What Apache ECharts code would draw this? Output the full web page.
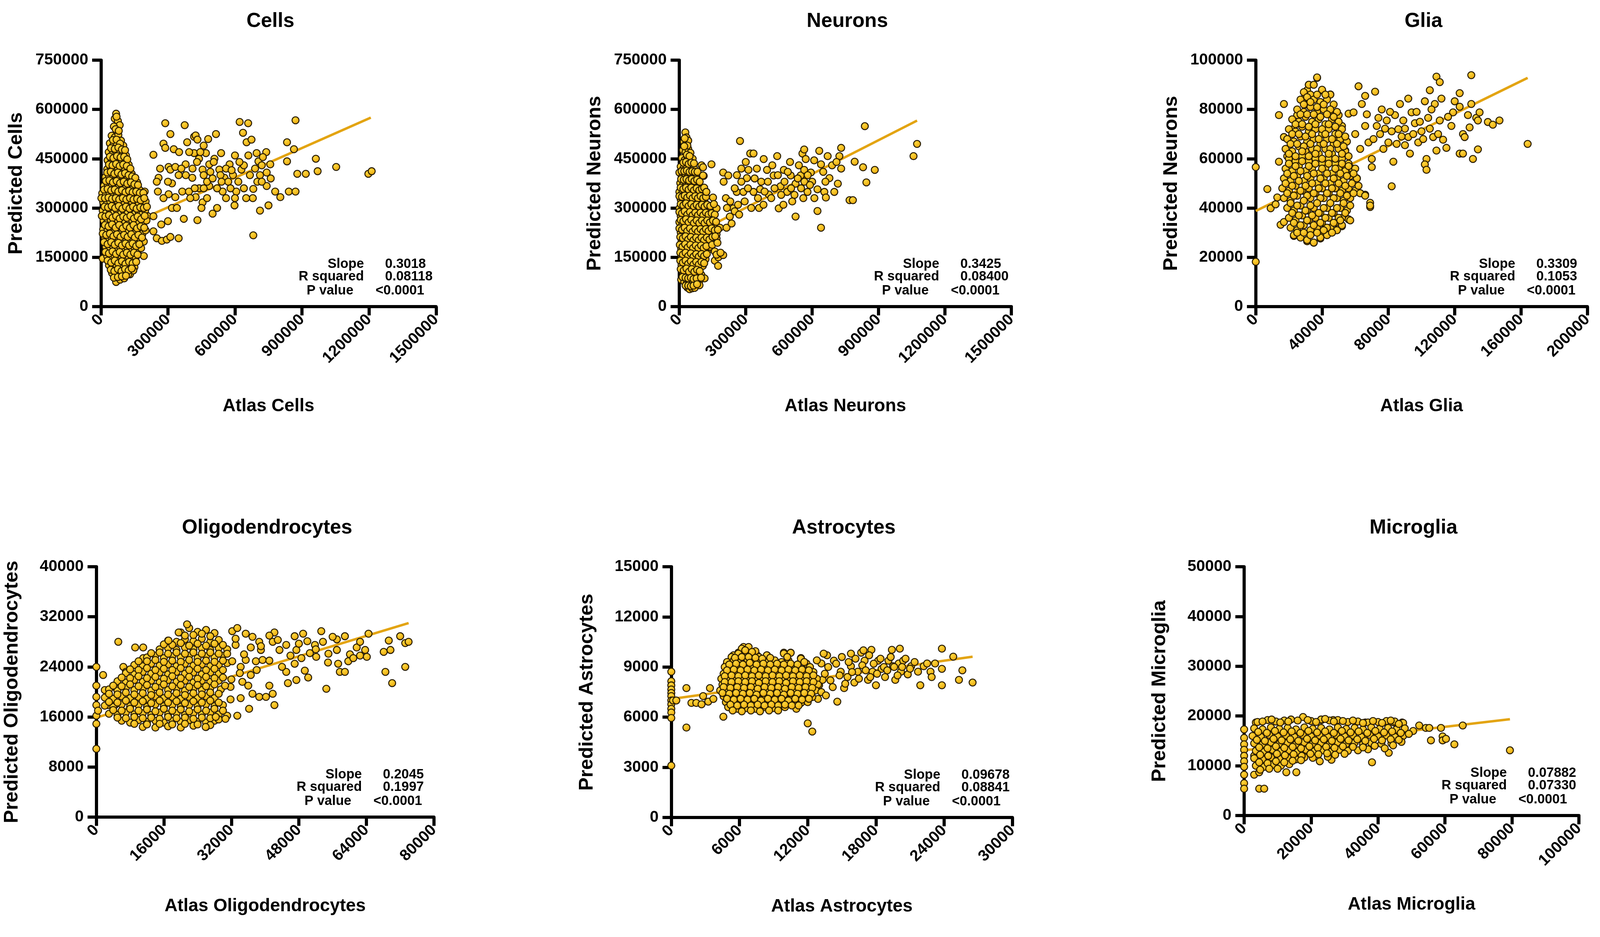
<!DOCTYPE html>
<html>
<head>
<meta charset="utf-8">
<script src="https://cdn.jsdelivr.net/npm/echarts@6/dist/echarts.min.js"></script>
<style>
  html, body { margin: 0; padding: 0; background: #fff; overflow: hidden; }
  #chart { width: 100vw; height: 100vh; }
</style>
</head>
<body>
<div id="chart"></div>
<script>
// all point values, in thousands
const titles = ['Cells', 'Neurons', 'Glia', 'Oligodendrocytes', 'Astrocytes', 'Microglia'];
const xNames = ['Atlas Cells', 'Atlas Neurons', 'Atlas Glia', 'Atlas Oligodendrocytes', 'Atlas Astrocytes', 'Atlas Microglia'];
const yNames = ['Predicted Cells', 'Predicted Neurons', 'Predicted Neurons', 'Predicted Oligodendrocytes', 'Predicted Astrocytes', 'Predicted Microglia'];
const xMax = [1500000, 1500000, 200000, 80000, 30000, 100000];
const xStep = [300000, 300000, 40000, 16000, 6000, 20000];
const yMax = [750000, 750000, 100000, 40000, 15000, 50000];
const yStep = [150000, 150000, 20000, 8000, 3000, 10000];
const slopes = ['0.3018', '0.3425', '0.3309', '0.2045', '0.09678', '0.07882'];
const rSquared = ['0.08118', '0.08400', '0.1053', '0.1997', '0.08841', '0.07330'];
const pValues = ['<0.0001', '<0.0001', '<0.0001', '<0.0001', '<0.0001', '<0.0001'];

// regression lines, start and end
const cellsFit = [[0, 212], [1208, 575]];
const neuronsFit = [[0, 198], [1074, 566]];
const gliaFit = [[0, 38.8], [164, 92.8]];
const oligoFit = [[0, 15.9], [74, 31.0]];
const astroFit = [[0, 7.09], [26.5, 9.62]];
const microFit = [[0, 13.1], [79.4, 19.35]];

const cellsXY = [
  [68,587],[62,572],[76,565],[84,552],[58,548],
  [48,520],[62,515],[78,522],[90,505],
  [40,497],[55,490],[70,498],[85,485],[100,490],
  [35,470],[50,462],[66,474],[82,466],[98,470],[112,460],
  [30,445],[46,440],[62,448],[78,438],[94,446],[110,440],[124,432],
  [28,418],[44,424],[60,415],[76,422],[92,414],[108,420],[124,412],[138,404],
  [20,394],[36,398],[52,390],[68,396],[84,388],[100,394],[116,386],[132,392],[148,384],[162,378],
  [14,368],[30,372],[46,364],[62,370],[78,362],[94,368],[110,360],[126,366],[142,358],[158,364],[172,356],
  [6,345],[22,340],[38,348],[54,342],[70,336],[86,344],[102,338],[118,346],[134,336],[150,342],[166,334],[182,340],[196,350],
  [10,318],[26,312],[42,320],[58,314],[74,322],[90,310],[106,318],[122,312],[138,320],[154,310],[170,316],[186,308],[200,320],
  [8,292],[24,286],[40,294],[56,284],[72,292],[88,282],[104,290],[120,284],[136,292],[152,282],[168,290],[184,280],[198,292],[210,275],
  [12,262],[28,256],[44,264],[60,254],[76,262],[92,252],[108,260],[124,254],[140,262],[156,250],[172,258],[188,250],[204,262],
  [10,235],[26,228],[42,236],[58,226],[74,234],[90,224],[106,232],[122,226],[138,234],[154,224],[170,232],[186,222],[200,232],
  [16,212],[32,204],[48,210],[64,200],[80,208],[96,198],[112,206],[128,198],[144,206],[160,196],[176,204],[192,198],
  [22,182],[38,176],[54,184],[70,174],[86,182],[102,172],[118,180],[134,172],[150,180],[166,170],[180,178],
  [8,146],[28,154],[44,148],[60,156],[76,146],[92,154],[108,144],[124,152],[140,144],[156,150],[192,154],
  [36,126],[52,120],[68,128],[84,118],[100,126],[116,116],[132,124],[150,120],
  [50,102],[66,96],[82,104],[98,94],[114,102],[130,98],[145,110],
  [68,75],[86,82],[104,86],[122,98],
  [70,578],[66,540],[80,535],
  [54,507],[70,508],[86,496],[45,482],[62,480],[78,484],[94,478],[108,476],
  [40,456],[56,452],[72,458],[88,454],[104,456],[118,448],
  [36,432],[52,430],[68,434],[84,428],[100,432],[116,428],[132,420],
  [28,408],[44,410],[60,404],[76,408],[92,402],[108,406],[124,400],[140,396],[154,392],
  [22,382],[38,384],[54,378],[70,382],[86,376],[102,380],[118,374],[134,378],[150,372],[166,370],
  [14,356],[30,358],[46,354],[62,356],[78,350],[94,354],[110,348],[126,352],[142,348],[158,350],[174,346],[190,346],
  [2,330],[18,330],[34,332],[50,328],[66,330],[82,326],[98,330],[114,326],[130,330],[146,326],[162,328],[178,324],[194,330],
  [16,304],[32,302],[48,306],[64,300],[80,306],[96,298],[112,304],[128,298],[144,304],[160,298],[176,302],[192,300],[206,304],
  [4,276],[20,274],[36,278],[52,270],[68,276],[84,268],[100,274],[116,270],[132,276],[148,268],[164,274],[180,266],[196,276],
  [18,248],[34,244],[50,250],[66,240],[82,248],[98,238],[114,246],[130,240],[146,248],[162,238],[178,244],[194,240],
  [8,222],[24,218],[40,222],[56,214],[72,220],[88,212],[104,218],[120,212],[136,220],[152,210],[168,218],[184,210],
  [14,196],[30,190],[46,196],[62,188],[78,194],[94,186],[110,192],[126,186],[142,192],[158,184],[172,190],
  [20,166],[36,162],[52,168],[68,160],[84,166],[100,158],[116,164],[132,158],[148,164],[164,158],
  [30,140],[46,134],[62,140],[78,132],[94,138],[110,130],[126,136],[142,132],[158,136],
  [44,112],[60,108],[76,114],[92,108],[108,114],[124,110],[138,116],
  [58,88],[76,90],[94,92],[112,94],
  [235,462],[258,392],[255,350],[235,275],[235,229],[250,208],[273,200],[295,204],[311,212],
  [288,558],[280,496],[288,483],[303,425],[311,417],[318,375],[311,525],[326,479],[303,342],
  [318,300],[333,333],[348,208],[333,425],[348,400],[375,552],[371,267],[364,350],[379,433],[386,500],
  [417,517],[424,521],[432,508],[417,467],[439,450],[455,417],[470,467],[485,433],[409,392],[394,350],
  [424,333],[432,263],[455,317],[485,367],[500,283],[515,525],[508,450],[530,417],[538,467],[545,350],
  [553,392],[576,433],[591,400],[606,350],[598,308],[621,562],[659,558],[636,529],[652,500],[674,508],
  [629,417],[667,400],[682,358],[682,217],[697,467],[705,442],[712,400],[712,292],[742,408],[758,433],
  [750,308],[742,367],[803,333],[833,500],[833,442],[841,350],[871,567],[864,479],[871,350],[879,404],
  [917,404],[962,450],[970,412],[1053,425],[1197,404],[1212,412],
  [430,440],[445,470],[460,400],[475,380],[490,410],[505,440],[520,360],[535,400],[560,420],[570,380],
  [585,415],[600,460],[615,380],[640,430],[660,460],[690,420],[700,380],[720,430],[680,330],[475,330],
  [440,360],[410,420],[395,470],[380,400],[400,330],[450,300],[520,300],[560,330],[600,330],[640,360],
  [265,420],[250,380],[280,330],[300,380],[340,300],[360,420],[420,360],[460,360],[500,390],[540,380],
  [580,360],[620,440],[650,330],[720,380],[760,390],[780,350],[300,260],[270,250],[350,470],[460,490],
  [480,510],[740,470],[725,455]
];

const neuronsXY = [
  [27,530],[32,515],[20,502],[30,495],[40,505],
  [16,476],[28,470],[40,480],[50,468],
  [12,452],[24,446],[36,456],[48,444],[60,450],
  [6,426],[18,420],[30,430],[42,418],[54,428],[66,420],[100,430],
  [0,408],[14,398],[26,404],[38,394],[50,402],[62,392],[74,400],[110,398],
  [4,376],[16,370],[28,380],[40,368],[52,376],[64,366],[76,374],[88,366],
  [0,349],[12,344],[24,352],[36,342],[48,350],[60,340],[72,348],[84,340],[96,348],[122,349],
  [6,326],[18,320],[30,328],[42,318],[54,326],[66,316],[78,324],[90,316],[102,324],[114,318],[152,332],
  [0,299],[12,296],[24,302],[36,292],[48,300],[60,290],[72,298],[84,290],[96,298],[108,290],[120,298],[134,292],[168,299],
  [6,276],[18,270],[30,278],[42,268],[54,276],[66,266],[78,274],[90,266],[102,274],[114,266],[126,274],[140,268],[154,266],
  [0,257],[12,248],[24,254],[36,244],[48,252],[60,242],[72,250],[84,242],[96,250],[108,242],[120,250],[132,244],[146,252],[160,246],[183,240],
  [6,226],[18,220],[30,228],[42,218],[54,226],[66,216],[78,224],[90,216],[102,224],[114,216],[126,224],[140,218],[154,226],[168,220],
  [10,200],[22,194],[34,202],[46,192],[58,200],[70,190],[82,198],[94,190],[106,198],[118,190],[130,198],[142,192],[156,200],[168,207],
  [8,176],[20,170],[32,178],[44,168],[56,176],[68,166],[80,174],[92,166],[104,174],[116,166],[128,172],[137,182],[160,168],
  [8,157],[20,146],[32,152],[44,142],[56,150],[68,140],[80,148],[92,140],[104,148],[118,144],[160,140],[176,150],[198,157],
  [10,126],[22,120],[34,128],[46,118],[58,126],[70,116],[82,124],[94,118],[106,124],[175,124],
  [15,107],[26,98],[38,104],[50,94],[62,102],[74,94],[86,100],[100,96],
  [8,82],[22,76],[34,72],[46,78],[58,70],[72,74],[90,78],[114,86],
  [36,58],[46,53],[58,56],[69,57],[91,65],
  [24,512],[36,490],[22,488],[34,462],[46,458],[18,438],[30,440],[42,434],[54,438],[66,436],
  [10,412],[22,412],[34,414],[46,410],[58,412],[70,410],[82,410],
  [8,388],[20,386],[32,388],[44,384],[56,388],[68,382],[80,386],[92,380],
  [6,362],[18,358],[30,362],[42,356],[54,362],[66,354],[78,360],[90,354],[102,358],[112,362],
  [0,336],[12,334],[24,338],[36,332],[48,338],[60,330],[72,336],[84,330],[96,336],[108,330],[120,334],
  [6,312],[18,308],[30,314],[42,306],[54,312],[66,304],[78,310],[90,304],[102,310],[114,304],[126,310],[140,306],[156,312],
  [0,288],[12,284],[24,290],[36,280],[48,288],[60,278],[72,286],[84,278],[96,286],[108,278],[120,286],[132,280],[146,284],[160,280],
  [6,264],[18,260],[30,266],[42,256],[54,264],[66,254],[78,262],[90,254],[102,262],[114,254],[126,262],[138,256],[152,262],[166,258],
  [0,238],[12,234],[24,240],[36,230],[48,238],[60,228],[72,236],[84,228],[96,236],[108,228],[120,236],[132,230],[146,238],[160,232],[174,234],
  [4,212],[16,208],[28,214],[40,204],[52,212],[64,202],[76,210],[88,202],[100,210],[112,202],[124,210],[136,204],[150,212],[162,214],
  [2,188],[14,182],[26,190],[38,180],[50,188],[62,178],[74,186],[86,178],[98,186],[110,178],[122,184],[148,188],[172,194],
  [4,164],[16,158],[28,164],[40,154],[52,162],[64,152],[76,160],[88,152],[100,160],[112,154],[124,160],[168,158],[186,164],
  [4,140],[16,134],[28,140],[40,130],[52,138],[64,128],[76,136],[88,128],[100,136],[112,132],
  [6,114],[20,110],[32,116],[44,106],[56,114],[68,106],[80,112],[92,108],
  [14,90],[28,88],[40,86],[52,88],[64,84],[78,86],[98,88],
  [28,64],[40,64],[52,62],[64,64],[80,68],
  [107,424],[107,399],[145,433],[122,349],[198,408],[221,399],[213,240],[236,253],[228,274],[244,299],
  [274,504],[259,349],[289,349],[305,391],[320,466],[335,466],[312,416],[335,349],[365,357],[381,449],
  [396,416],[404,341],[426,399],[442,458],[449,299],[457,366],[472,416],[487,349],[503,399],[525,274],
  [525,374],[548,399],[556,466],[564,478],[564,416],[579,349],[571,449],[594,408],[609,445],[624,357],
  [640,433],[624,291],[640,240],[655,349],[662,332],[632,474],[670,458],[678,391],[700,349],[716,374],
  [731,483],[731,420],[723,458],[769,324],[784,324],[792,441],[830,424],[838,549],[845,378],[883,416],
  [1058,458],[1074,495],
  [210,330],[230,320],[250,360],[265,310],[280,380],[295,320],[310,360],[325,300],[340,390],[355,330],
  [370,380],[385,350],[400,380],[415,330],[430,360],[445,400],[460,340],[475,380],[490,410],[505,360],
  [520,340],[535,390],[550,360],[565,380],[580,400],[600,380],[610,330],[260,400],[280,420],[300,440],
  [350,420],[420,430],[500,440],[540,430],[590,370],[250,290],[270,280],[200,380],[215,300],[360,300],
  [380,310],[470,310],[510,320],[560,330],[650,410],[690,430],[710,440],[660,380]
];

const gliaXY = [
  [0,56.6],[0,18.2],
  [7,47.7],[9,39.9],[12,41.5],[13,44.3],[14,77.7],[17,82.2],[17,68.8],[14,58.8],[19,61],[15,33.2],[17,34.3],
  [23,28.7],[31,26.5],[35,25.9],[39,27.6],[32,90],[37,92.8],[31,87.8],[29,84.4],[40,87.8],[45,86.1],
  [46,77.7],[50,77.7],[52,73.3],[48,68.8],[54,63.3],[56,57.7],[58,54.3],[61,52.1],[63,46],[66,45.4],
  [69,42.1],[69,40.4],[56,35.4],[52,32.6],[50,34.9],[25,77.7],[23,72.2],[21,66.6],
  [37,93],[32,90],[29,87],[33,86],[40,88],[45,86],
  [27,84],[31,82],[35,84],[39,83],[43,84],[47,82],
  [25,80],[29,79],[33,81],[37,79],[41,80],[45,78],[49,79],
  [22,76],[26,75],[30,77],[34,75],[38,76],[42,74],[46,76],[50,75],
  [20,72],[24,71],[28,73],[32,71],[36,72],[40,70],[44,72],[48,70],[52,72],
  [19,68],[23,67],[27,69],[31,67],[35,68],[39,66],[43,68],[47,66],[51,68],[55,67],
  [18,64],[22,63],[26,65],[30,63],[34,64],[38,62],[42,64],[46,62],[50,64],[54,63],
  [20,60],[24,59],[28,61],[32,59],[36,60],[40,58],[44,60],[48,58],[52,60],[56,58],
  [18,56],[22,55],[26,57],[30,55],[34,56],[38,54],[42,56],[46,54],[50,56],[54,55],[58,56],
  [17,52],[21,51],[25,53],[29,51],[33,52],[37,50],[41,52],[45,50],[49,52],[53,51],[57,53],[61,52],
  [16,48],[20,47],[24,49],[28,47],[32,48],[36,46],[40,48],[44,46],[48,48],[52,47],[56,48],[60,47],
  [17,44],[21,43],[25,45],[29,43],[33,44],[37,42],[41,44],[45,42],[49,44],[53,43],[57,44],[63,46],[66,45],
  [19,40],[23,39],[27,41],[31,39],[35,40],[39,38],[43,40],[47,38],[51,40],[55,39],[69,41],
  [20,36],[24,35],[28,37],[32,35],[36,36],[40,34],[44,36],[48,34],[52,36],[57,35],
  [21,32],[25,31],[29,33],[33,31],[37,32],[41,30],[45,32],[49,31],[52,33],
  [23,29],[27,28],[31,27],[35,26],[39,28],[43,29],
  [35,90],[31,85],[37,86],[42,86],[29,82],[33,83],[37,81],[41,82],[45,80],
  [27,78],[31,78],[35,78],[39,77],[43,78],[47,77],[24,74],[28,74],[32,73],[36,74],[40,72],[44,74],[48,73],
  [22,70],[26,70],[30,69],[34,70],[38,68],[42,70],[46,68],[50,70],[54,69],
  [21,66],[25,66],[29,65],[33,66],[37,64],[41,66],[45,64],[49,66],[53,65],
  [20,62],[24,61],[28,63],[32,61],[36,62],[40,60],[44,62],[48,60],[52,62],[56,61],
  [20,58],[24,57],[28,59],[32,57],[36,58],[40,56],[44,58],[48,56],[52,58],[56,57],[60,56],
  [19,54],[23,53],[27,55],[31,53],[35,54],[39,52],[43,54],[47,52],[51,54],[55,53],[59,54],
  [18,50],[22,49],[26,51],[30,49],[34,50],[38,48],[42,50],[46,48],[50,50],[54,49],[58,50],[62,49],
  [19,46],[23,45],[27,47],[31,45],[35,46],[39,44],[43,46],[47,44],[51,46],[55,45],[59,46],
  [21,42],[25,41],[29,43],[33,41],[37,42],[41,40],[45,42],[49,40],[53,42],[57,41],
  [22,38],[26,37],[30,39],[34,37],[38,38],[42,36],[46,38],[50,36],[54,38],
  [23,34],[27,33],[31,35],[35,33],[39,34],[43,32],[47,34],[51,35],
  [25,30],[29,30],[33,29],[37,30],[41,31],[46,30],
  [56,78.3],[59,78.8],[62,89.4],[66,85.5],[72,87.2],[64,82.2],[66,73.3],[68,66.6],[70,59.9],[70,56.6],
  [73,73.3],[76,80],[74,76.6],[79,75.5],[78,72.2],[82,71.1],[84,77.7],[80,66.6],[85,66],[83,58.8],
  [82,48.8],[87,82.2],[89,75.5],[90,72.2],[92,68.8],[92,84.4],[94,78.8],[96,74.4],[90,65.5],[93,62.1],
  [98,66.6],[100,71.1],[102,83.3],[104,76.6],[105,87.8],[105,72.2],[103,59.9],[102,57.7],[103,55.5],[107,68.8],
  [108,82.2],[109,93.3],[111,91.1],[112,84.4],[111,75.5],[113,67.7],[109,63.3],[115,64.4],[118,73.3],[119,78.8],
  [120,83.3],[123,81.1],[123,62.1],[123,86.6],[125,70],[126,68.8],[125,62.1],[128,77.7],[130,82.2],[130,93.9],
  [129,72.7],[131,59.9],[134,63.8],[133,76.6],[135,78.8],[134,75.5],[140,74.9],[143,73.8],[147,75.5],[164,66],
  [60,70],[63,64],[67,78],[71,68],[75,70],[77,64],[81,79],[86,72],[88,69],[95,70],[97,79],[99,75],[101,68],[106,80],[110,70],[116,77]
];

const oligoXY = [
  [0,24],[0,21],[0,19.2],[0,17.9],[0,14.9],[0,10.9],[0,16.2],[0.4,17],
  [1.6,22.7],[2,20.3],[2.8,17.9],[5.2,28],[6.4,24],[7,23.2],[4.8,20.5],[4.4,17.9],
  [9.2,27.1],[11.1,27.1],[11.1,25.4],[10.7,23.2],
  [20,29.5],[22,30.2],[24,29.6],[26,29.9],[28,29.4],
  [17,28.2],[19,28],[21,28.4],[23,28.1],[25,28.5],[27,28],[29,28.3],
  [15,26.8],[17,27],[19,26.7],[21,27.1],[23,26.8],[25,27],[27,26.7],[29,27],[31,26.8],
  [12,25.5],[14,25.8],[16,25.4],[18,25.7],[20,25.5],[22,25.8],[24,25.4],[26,25.7],[28,25.5],[30,25.8],
  [9,24.3],[11,24.1],[13,24.5],[15,24.2],[17,24.4],[19,24.1],[21,24.5],[23,24.2],[25,24.4],[27,24.1],[29,24.3],[31,24.6],
  [7,23],[9,22.8],[11,23.2],[13,22.9],[15,23.1],[17,22.8],[19,23.2],[21,22.9],[23,23.1],[25,22.8],[27,23.1],[29,22.9],
  [5,21.7],[7,21.5],[9,21.9],[11,21.6],[13,21.8],[15,21.5],[17,21.9],[19,21.6],[21,21.8],[23,21.5],[25,21.8],[27,21.6],[29,21.8],
  [3,20.4],[5,20.2],[7,20.6],[9,20.3],[11,20.5],[13,20.2],[15,20.6],[17,20.3],[19,20.5],[21,20.2],[23,20.5],[25,20.3],[27,20.6],[29.5,20.4],
  [2,19.1],[4,18.9],[6,19.3],[8,19],[10,19.2],[12,18.9],[14,19.3],[16,19],[18,19.2],[20,18.9],[22,19.2],[24,19],[26,19.3],[28,19],
  [2,17.8],[4,17.6],[6,18],[8,17.7],[10,17.9],[12,17.6],[14,18],[16,17.7],[18,17.9],[20,17.6],[22,17.9],[24,17.7],[26,18],[28,17.7],[30,17.9],
  [3,16.5],[5,16.3],[7,16.7],[9,16.4],[11,16.6],[13,16.3],[15,16.7],[17,16.4],[19,16.6],[21,16.3],[23,16.6],[25,16.4],[27,16.7],[29,16.4],[31,16.2],
  [6,15.4],[8,15.1],[10,15.5],[12,15.2],[14,15.4],[16,15.1],[18,15.4],[20,15.2],[22,15.5],[24,15.2],[26,15.1],[28,15.4],
  [11,14.4],[14,14.3],[17,14.5],[20,14.3],[23,14.6],[26,14.4],
  [21,29],[23,29.1],[25,29.3],[27,28.9],
  [16,27.6],[18,27.5],[20,27.8],[22,27.4],[24,27.7],[26,27.4],[28,27.7],[30,27.5],
  [13,26.2],[15,26.3],[17,26.1],[19,26.3],[21,26.1],[23,26.3],[25,26.1],[27,26.3],[29,26.1],[31,26.1],
  [10,24.9],[12,24.9],[14,25.1],[16,24.8],[18,25],[20,24.8],[22,25.1],[24,24.8],[26,25],[28,24.8],[30,25],
  [8,23.6],[10,23.5],[12,23.8],[14,23.5],[16,23.7],[18,23.5],[20,23.8],[22,23.5],[24,23.7],[26,23.5],[28,23.7],[30,23.5],
  [6,22.3],[8,22.2],[10,22.5],[12,22.2],[14,22.4],[16,22.1],[18,22.5],[20,22.2],[22,22.4],[24,22.1],[26,22.4],[28,22.2],[30,22.3],
  [4,21],[6,20.9],[8,21.2],[10,20.9],[12,21.1],[14,20.8],[16,21.2],[18,20.9],[20,21.1],[22,20.8],[24,21.1],[26,20.9],[28,21.2],
  [3,19.7],[5,19.6],[7,19.9],[9,19.6],[11,19.8],[13,19.5],[15,19.9],[17,19.6],[19,19.8],[21,19.5],[23,19.8],[25,19.6],[27,19.9],[29,19.7],
  [3,18.4],[5,18.3],[7,18.6],[9,18.3],[11,18.5],[13,18.2],[15,18.6],[17,18.3],[19,18.5],[21,18.2],[23,18.5],[25,18.3],[27,18.6],[29,18.3],
  [4,17.1],[6,17],[8,17.3],[10,17],[12,17.2],[14,16.9],[16,17.3],[18,17],[20,17.2],[22,16.9],[24,17.2],[26,17],[28,17.3],[30,17],
  [5,15.9],[7,15.8],[9,16],[11,15.8],[13,15.9],[15,15.7],[17,16],[19,15.8],[21,15.9],[23,15.7],[25,15.9],[27,15.8],[29,15.6],
  [9,14.9],[12,14.8],[15,14.9],[18,14.8],[21,14.9],[24,14.8],[27,14.7],
  [21.5,30.8],[19.5,29.5],[17.1,28.2],[25.9,14.4],[28.3,16],[30.6,15.7],[33.4,16.2],[31.8,18.8],[31.8,20.8],[34.2,19],
  [36.2,17.3],[37,19.7],[38.6,19.2],[40.2,19.2],[41.8,19.7],[42.2,17.9],[41,21],[34.6,21.6],[36.6,22.7],[37.8,24.9],
  [35.4,25.1],[34.2,24],[32.2,24.9],[32.2,29.7],[33.4,30.2],[35.4,29.3],[33,27.5],[36.6,27.1],[38.6,28],[39,26.7],
  [39.4,25.1],[42.2,29.5],[41.8,28],[43.4,26.7],[45.4,21.4],[45,23.2],[47.4,21.9],[47,28.9],[47.4,26.7],[48.6,25.4],
  [49,29.3],[49.4,23.4],[50.2,22.3],[50.6,26.2],[51.8,27.5],[52.1,25.6],[53.3,29.7],[53.7,28],[54.5,20.5],[54.9,24.7],
  [57,28.4],[57,26.7],[57.3,24.5],[58.9,28.9],[57.7,23.2],[58.9,23.2],[59.7,24.9],[60.1,26],[60.9,25.4],[61.7,27.1],
  [62.5,28],[62.5,25.8],[63.7,26.7],[64.1,25.6],[64.5,29.3],[68.1,26.4],[68.5,23.2],[69.3,28.2],[69.7,26.7],[70.1,21.4],
  [72,28.9],[73.2,24],[73.2,27.8],[74,28],
  [33,28.5],[35,26],[37,28.8],[39,27.3],[41,25],[43,28.3],[45,27.5],[46,25.8],[44,24],[38,23.5],
  [36,21],[48,27.7],[50,28.1],[52,26.8],[55,26.1],[56,28.8],[47,24.5],[41,29],[34,23],[32,22],[30.5,21]
];

const astroXY = [
  [0,8.72],[0,8.15],[0,7.9],[0,7.66],[0,7.45],[0,7.26],[0,7.0],[0,6.77],[0,6.5],[0,6.28],[0,5.95],[0,3.1],[0.15,7],[0.44,7],
  [1.33,7.74],[1.33,5.38],[1.77,6.85],[2.2,6.85],[2.8,7.26],[2.66,6.77],[3.25,6.93],[3.4,7.74],[3.7,7.09],
  [4.58,6.03],[4.88,9.2],[5.47,9.7],[6.35,10.2],[6.65,10.03],[5.9,9.86],[7.54,9.7],[8.42,9.7],[9.9,9.86],[10.5,9.86],
  [11.4,9.54],[11.7,7.26],[12,5.63],[12.4,5.14],[12.3,7.26],[12.9,7.09],[13,7.91],[13.3,8.23],[13.2,9.21],[13.7,9.7],
  [14.3,9.38],[14.6,6.93],[14.9,8.72],[15.2,7.74],[15.5,8.4],[15.8,9.05],[16.1,8.07],[16.4,8.72],[16.7,9.86],[17,9.38],
  [17.3,8.23],[17.6,10.03],[17.7,8.72],[18,7.91],[18.2,9.38],[18.5,8.89],[18.8,8.4],[19.1,9.38],[19.4,10.03],[19.5,9.05],
  [19.7,8.23],[20,9.21],[20.2,8.72],[20.4,9.38],[20.8,8.56],[21.1,9.05],[21.7,8.72],[21.9,7.91],[22.2,9.05],[22.5,9.21],
  [22.8,8.72],[22.9,8.4],[23.2,9.21],[23.8,10.1],[23.8,8.89],[23.8,7.91],[24.8,9.62],[25.3,8.23],[25.6,8.8],[26.5,8.07],
  [6.2,10.1],[6.8,10.2],[7.4,9.95],
  [5.3,9.6],[5.9,9.8],[6.5,9.7],[7.1,9.75],[7.7,9.6],[8.4,9.7],[9.9,9.8],[10.5,9.85],
  [4.9,9.3],[5.5,9.4],[6.1,9.3],[6.7,9.45],[7.3,9.3],[7.9,9.4],[8.5,9.3],[9.1,9.4],[9.7,9.3],[10.3,9.4],[11.4,9.5],[11.9,9.2],
  [4.7,9.0],[5.3,8.95],[5.9,9.1],[6.5,8.95],[7.1,9.05],[7.7,8.9],[8.3,9.05],[8.9,8.95],[9.5,9.1],[10.1,8.95],[10.7,9.05],[11.3,8.9],[12.2,9.0],
  [4.6,8.6],[5.2,8.7],[5.8,8.6],[6.4,8.7],[7.0,8.6],[7.6,8.7],[8.2,8.6],[8.8,8.7],[9.4,8.6],[10.0,8.7],[10.6,8.6],[11.2,8.7],[11.8,8.6],[12.5,8.7],
  [4.4,8.3],[5.0,8.25],[5.6,8.35],[6.2,8.25],[6.8,8.35],[7.4,8.2],[8.0,8.35],[8.6,8.25],[9.2,8.35],[9.8,8.2],[10.4,8.35],[11.0,8.25],[11.6,8.35],[12.2,8.25],[12.8,8.3],
  [4.5,7.95],[5.1,7.9],[5.7,8.0],[6.3,7.9],[6.9,8.0],[7.5,7.85],[8.1,8.0],[8.7,7.9],[9.3,8.0],[9.9,7.85],[10.5,8.0],[11.1,7.9],[11.7,8.0],[12.3,7.9],[12.9,7.95],
  [4.3,7.6],[4.9,7.55],[5.5,7.65],[6.1,7.55],[6.7,7.65],[7.3,7.5],[7.9,7.65],[8.5,7.55],[9.1,7.65],[9.7,7.5],[10.3,7.65],[10.9,7.55],[11.5,7.65],[12.1,7.55],[12.7,7.6],
  [4.6,7.25],[5.2,7.2],[5.8,7.3],[6.4,7.2],[7.0,7.3],[7.6,7.15],[8.2,7.3],[8.8,7.2],[9.4,7.3],[10.0,7.15],[10.6,7.3],[11.2,7.2],[11.8,7.3],[12.4,7.2],
  [4.8,6.9],[5.4,6.85],[6.0,6.95],[6.6,6.85],[7.2,6.95],[7.8,6.8],[8.4,6.95],[9.0,6.85],[9.6,6.95],[10.2,6.8],[10.8,6.9],[11.4,6.85],[12.0,6.9],
  [5.0,6.6],[5.8,6.5],[6.6,6.55],[7.4,6.5],[8.2,6.6],[9.0,6.55],[10.0,6.6],[11.0,6.5],
  [6.5,10.0],[7.1,9.9],[5.6,9.55],[6.2,9.6],[6.8,9.6],[7.4,9.55],[8.0,9.5],[8.7,9.55],[10.2,9.6],
  [5.1,9.15],[5.7,9.2],[6.3,9.15],[6.9,9.25],[7.5,9.15],[8.1,9.2],[8.7,9.15],[9.3,9.2],[9.9,9.15],[10.5,9.2],[11.1,9.15],[11.7,9.3],
  [4.9,8.8],[5.5,8.85],[6.1,8.8],[6.7,8.85],[7.3,8.8],[7.9,8.85],[8.5,8.8],[9.1,8.85],[9.7,8.8],[10.3,8.85],[10.9,8.8],[11.5,8.85],[12.1,8.8],
  [4.7,8.45],[5.3,8.5],[5.9,8.45],[6.5,8.5],[7.1,8.45],[7.7,8.5],[8.3,8.45],[8.9,8.5],[9.5,8.45],[10.1,8.5],[10.7,8.45],[11.3,8.5],[11.9,8.45],[12.5,8.5],
  [4.7,8.1],[5.3,8.1],[5.9,8.15],[6.5,8.1],[7.1,8.15],[7.7,8.05],[8.3,8.15],[8.9,8.1],[9.5,8.15],[10.1,8.05],[10.7,8.15],[11.3,8.1],[11.9,8.15],[12.5,8.1],
  [4.6,7.8],[5.2,7.75],[5.8,7.8],[6.4,7.75],[7.0,7.8],[7.6,7.7],[8.2,7.8],[8.8,7.75],[9.4,7.8],[10.0,7.7],[10.6,7.8],[11.2,7.75],[11.8,7.8],[12.4,7.75],
  [4.5,7.45],[5.1,7.4],[5.7,7.45],[6.3,7.4],[6.9,7.45],[7.5,7.35],[8.1,7.45],[8.7,7.4],[9.3,7.45],[9.9,7.35],[10.5,7.45],[11.1,7.4],[11.7,7.45],[12.3,7.4],
  [4.9,7.1],[5.5,7.05],[6.1,7.1],[6.7,7.05],[7.3,7.1],[7.9,7.0],[8.5,7.1],[9.1,7.05],[9.7,7.1],[10.3,7.0],[10.9,7.1],[11.5,7.05],[12.1,7.1],
  [5.2,6.75],[5.8,6.7],[6.4,6.75],[7.0,6.7],[7.6,6.75],[8.2,6.7],[8.8,6.75],[9.4,6.7],[10.0,6.75],[10.6,6.7],[11.2,6.7],
  [5.4,6.4],[6.2,6.35],[7.0,6.4],[7.8,6.35],[8.6,6.4],[9.4,6.4],
  [13.5,8.6],[13.8,9.0],[14.0,8.2],[14.2,7.8],[14.5,9.2],[14.8,8.5],[15.0,9.6],[15.3,8.0],[15.6,9.3],[15.9,8.7],
  [16.2,9.5],[16.5,8.3],[16.8,9.1],[17.1,8.8],[17.4,9.7],[17.8,9.2],[18.1,8.6],[18.4,9.5],[18.7,9.0],[19.0,8.8],
  [19.3,9.6],[19.6,9.0],[19.9,8.5],[20.3,9.0],[20.6,9.5],[21.0,8.9],[21.4,9.3],[13.2,7.5],[13.6,7.3],[12.8,9.4],
  [13.4,9.8],[15.8,9.8],[16.9,10.0],[17.5,8.4],[20.1,10.1]
];

const microXY = [
  [0,17.3],[0,15.6],[0,14.3],[0,13.2],[0,12],[0,10.9],[0,9.8],[0,8.2],[0,6.5],[0,5.4],
  [4.5,5.4],[6,5.4],[3.5,18.7],[3,12],[3,8.2],[4.5,8.7],[7,10.4],[12.6,8.7],[15.6,8.7],[17.6,19.8],
  [22.6,10.9],[26.1,11.2],[23.1,19.2],[26.6,19.2],[36.2,18.7],[38.2,10.7],[43.2,12.6],[44.7,18.7],[47.2,18.7],[52.3,18.1],
  [54.3,17.6],[55.3,17.6],[55.8,15.1],[58.8,17.6],[59.3,15.9],[59.3,15.1],[60.3,15.4],[62.8,14.3],[65.3,18.1],[79.4,13.1],
  [4,18.8],[7,19.2],[9.5,18.9],[12,19.1],[14,19.3],[20,19],[23,19.3],[25.5,19.1],[28,19.2],[31,18.8],[34,18.9],[37,18.7],[40,18.8],[42.5,19],[45,18.9],[47.5,18.6],
  [3,17.5],[5.5,17.3],[8,17.7],[10.5,17.4],[13,17.6],[15.5,17.3],[18,17.7],[20.5,17.4],[23,17.6],[25.5,17.3],[28,17.7],[30.5,17.4],[33,17.6],[35.5,17.3],[38,17.7],[40.5,17.4],[43,17.6],[45.5,17.3],[48,17.5],[50.5,17],
  [2.5,16],[5,15.8],[7.5,16.2],[10,15.9],[12.5,16.1],[15,15.8],[17.5,16.2],[20,15.9],[22.5,16.1],[25,15.8],[27.5,16.2],[30,15.9],[32.5,16.1],[35,15.8],[37.5,16.2],[40,15.9],[42.5,16.1],[45,15.8],[47.5,16],
  [3,14.5],[5.5,14.3],[8,14.7],[10.5,14.4],[13,14.6],[15.5,14.3],[18,14.7],[20.5,14.4],[23,14.6],[25.5,14.3],[28,14.7],[30.5,14.4],[33,14.6],[35.5,14.3],[38,14.6],[41,14.4],[44,14.5],[47,14.8],
  [3.5,13],[6,12.8],[8.5,13.2],[11,12.9],[13.5,13.1],[16,12.8],[18.5,13.2],[21,12.9],[23.5,13.1],[26,12.8],[28.5,13.2],[31,13],[34,13.1],[37,13.3],[42,13.5],
  [3,11.5],[5.5,11.3],[8,11.7],[10.5,11.4],[13,11.6],[15.5,11.3],[18,11.7],[20.5,11.6],[25,11.8],
  [3.5,10],[6,9.8],[8.5,10.2],[11,10],[13.5,10.3],
  [5.5,18.9],[8.2,19.3],[10.8,18.7],[13.2,18.9],[16,19.1],[19,19.2],[21.5,18.8],[24.2,19.4],[26.8,18.9],[29.5,19],[32.5,19.1],[35.5,18.6],[38.5,19],[41.2,18.6],[43.8,19.1],[46.2,18.4],
  [4.2,16.8],[6.8,16.6],[9.2,17],[11.8,16.7],[14.2,16.9],[16.8,16.6],[19.2,17],[21.8,16.7],[24.2,16.9],[26.8,16.6],[29.2,17],[31.8,16.7],[34.2,16.9],[36.8,16.6],[39.2,17],[41.8,16.7],[44.2,16.9],[46.8,16.6],[49.2,16.4],
  [3.8,15.2],[6.2,15],[8.8,15.4],[11.2,15.1],[13.8,15.3],[16.2,15],[18.8,15.4],[21.2,15.1],[23.8,15.3],[26.2,15],[28.8,15.4],[31.2,15.1],[33.8,15.3],[36.2,15],[38.8,15.4],[41.2,15.1],[43.8,15.3],[46.2,15.2],
  [4.5,13.7],[7,13.5],[9.5,13.9],[12,13.6],[14.5,13.8],[17,13.5],[19.5,13.9],[22,13.6],[24.5,13.8],[27,13.6],[29.5,13.9],[32.5,13.8],[35.5,13.7],[39,14],[44.5,14.1],
  [4.8,12.2],[7.2,12],[9.8,12.4],[12.2,12.1],[14.8,12.3],[17.2,12],[19.8,12.4],[22.2,12.3],[24.8,12.5],[27.2,12.2],[30,12.4],
  [4.5,10.7],[7,10.5],[9.5,10.9],[12,10.7],[14.5,11],[17,11.1],
  [4.8,9.2],[7.5,9.4],[10,9.4]
];

const pointSets = [cellsXY, neuronsXY, gliaXY, oligoXY, astroXY, microXY];
const fitLines = [cellsFit, neuronsFit, gliaFit, oligoFit, astroFit, microFit];

// panel boxes, measured on a 4550 x 2399 page
const grids = [
  { left: 287, top: 154, width: 953, height: 631 },
  { left: 1932, top: 154, width: 944, height: 631 },
  { left: 3571, top: 154, width: 943, height: 631 },
  { left: 274, top: 1451, width: 960, height: 641 },
  { left: 1909, top: 1451, width: 970, height: 642 },
  { left: 3538, top: 1451, width: 952, height: 637 }
];
const xNameGap = [232, 232, 232, 205, 205, 205];

const FONT = '"Liberation Sans", Arial, sans-serif';
const k = v => v * 1000;

let chart = echarts.init(document.getElementById('chart'), null, { renderer: 'canvas' });
// the page may not be exactly 4550 css px wide: scale every measurement
const s = chart.getWidth() / 4550;
const sy = chart.getHeight() / 2399;

const dotFill = new echarts.graphic.RadialGradient(0.4, 0.35, 0.7, [
  { offset: 0, color: '#FFD63F' },
  { offset: 1, color: '#E5A000' }
]);

const axisCommon = {
  type: 'value',
  min: 0,
  splitLine: { show: false },
  axisLine: { show: true, onZero: false, lineStyle: { color: '#000', width: 9 * s } },
  axisTick: { show: true, length: 25 * s, lineStyle: { color: '#000', width: 9 * s } },
  nameLocation: 'middle'
};

let option = {
  animation: false,
  backgroundColor: '#fff',
  title: [],
  grid: [],
  xAxis: [],
  yAxis: [],
  series: [],
  graphic: []
};

for (let i = 0; i < 6; i++) {
  const g = grids[i];
  option.grid.push({ left: g.left * s, top: g.top * sy, width: g.width * s, height: g.height * sy });
  option.title.push({
    text: titles[i],
    left: (g.left + g.width / 2) * s,
    top: (g.top - 130) * sy,
    textAlign: 'center',
    textStyle: { fontFamily: FONT, fontWeight: 'bold', fontSize: 57 * s, color: '#000' }
  });
  option.xAxis.push(Object.assign({}, axisCommon, {
    gridIndex: i,
    max: xMax[i],
    interval: xStep[i],
    name: xNames[i],
    nameGap: xNameGap[i] * sy,
    nameTextStyle: { fontFamily: FONT, fontWeight: 'bold', fontSize: 51 * s, color: '#000' },
    axisLabel: { rotate: 45, margin: 30 * s, formatter: v => String(v), fontFamily: FONT, fontWeight: 'bold', fontSize: 45 * s, color: '#000' }
  }));
  option.yAxis.push(Object.assign({}, axisCommon, {
    gridIndex: i,
    max: yMax[i],
    interval: yStep[i],
    name: yNames[i],
    nameGap: 212 * s,
    nameRotate: 90,
    nameTextStyle: { fontFamily: FONT, fontWeight: 'bold', fontSize: 56 * s, color: '#000' },
    axisLabel: { margin: 36 * s, formatter: v => String(v), fontFamily: FONT, fontWeight: 'bold', fontSize: 45 * s, color: '#000' }
  }));
  option.series.push({
    type: 'line',
    xAxisIndex: i,
    yAxisIndex: i,
    data: fitLines[i].map(p => [k(p[0]), k(p[1])]),
    showSymbol: false,
    silent: true,
    z: 1,
    lineStyle: { color: '#E3A412', width: 7 * s }
  });
  option.series.push({
    type: 'scatter',
    xAxisIndex: i,
    yAxisIndex: i,
    data: pointSets[i].map(p => [k(p[0]), k(p[1])]),
    symbol: 'circle',
    symbolSize: 20 * s,
    z: 2,
    itemStyle: { color: dotFill, borderColor: '#261B00', borderWidth: 2.8 * s, opacity: 1 }
  });

  // regression summary in the lower right corner
  const right = g.left + g.width;
  const bottom = g.top + g.height;
  const statFont = 'bold ' + (38 * s) + 'px ' + FONT;
  const rows = [
    ['Slope', slopes[i], -108, 0, 0],
    ['R squared', rSquared[i], -76, 0, 0],
    ['P value', pValues[i], -40, -30, -27]
  ];
  rows.forEach(r => {
    option.graphic.push({
      type: 'text', silent: true, z: 10,
      style: { text: r[0], x: (right - 205 + r[3]) * s, y: (bottom + r[2]) * sy, align: 'right', verticalAlign: 'middle', font: statFont, fill: '#000' }
    });
    option.graphic.push({
      type: 'text', silent: true, z: 10,
      style: { text: r[1], x: (right - 145 + r[4]) * s, y: (bottom + r[2]) * sy, align: 'left', verticalAlign: 'middle', font: statFont, fill: '#000' }
    });
  });
}

chart.setOption(option);
</script>
</body>
</html>
